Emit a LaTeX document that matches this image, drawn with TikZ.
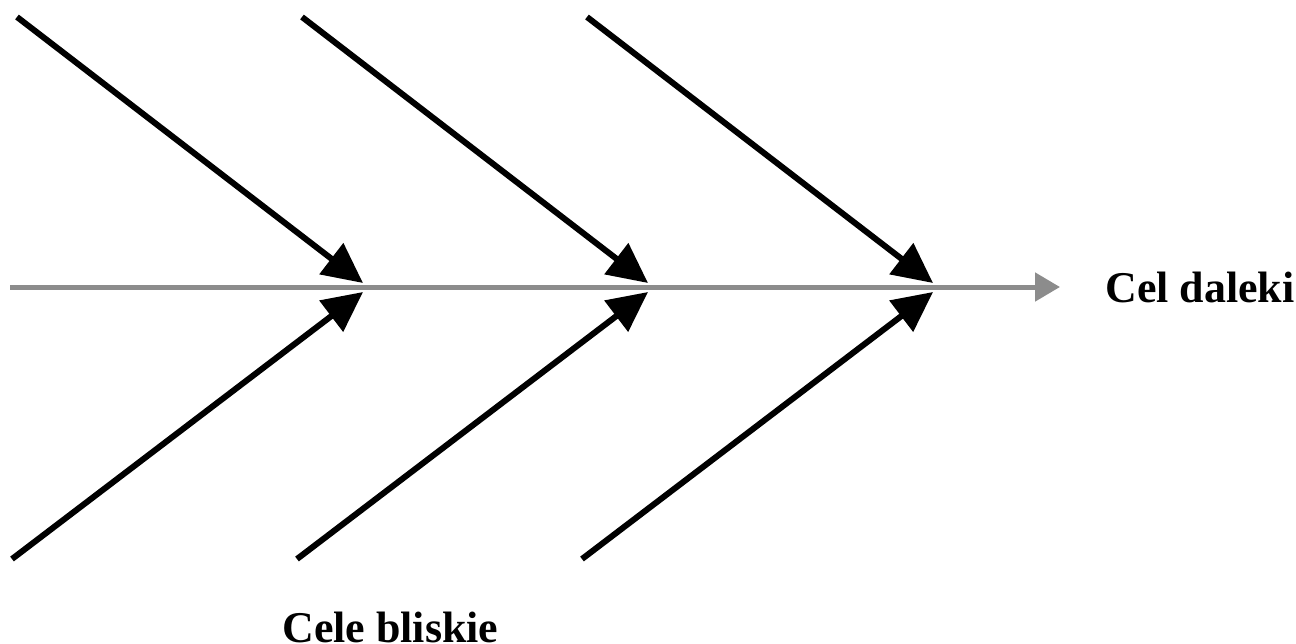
\documentclass[tikz,border=0pt]{standalone}
\usepackage{fontspec}
\setmainfont{Liberation Serif}
\usepackage{tikz}
\usetikzlibrary{positioning,arrows.meta}
\definecolor{spinegray}{RGB}{140,140,140}
\tikzset{
	bone/.style={-{Triangle[length=0.8cm,width=0.76cm]}, line width=0.12cm, black}, % the six black side arrows
	spine/.style={-{Triangle[length=0.5cm,width=0.56cm]}, line width=0.1cm, spinegray}, % the gray main line
	lbl/.style={font=\bfseries\fontsize{25}{29}\selectfont, inner sep=0pt}
}
\begin{document}
\begin{tikzpicture}[x=0.02cm, y=-0.02cm]
\useasboundingbox (0,0) rectangle (1296,643);
\coordinate (s) at (10,287);
\coordinate (e) at (1060,287);
\draw[spine] (s) -- (e);
\foreach \n/\dx in {1/0,2/285,3/570} {
	\coordinate (up\n) at ({17+\dx},17);
	\coordinate (lo\n) at ({12+\dx},559);
	\coordinate (hu\n) at ({363+\dx},283);
	\coordinate (hl\n) at ({363+\dx},292);
	\draw[bone] (up\n) -- (hu\n);
	\draw[bone] (lo\n) -- (hl\n);
}
\node[lbl, right=0.9cm of e] (far) {Cel daleki};
\node[lbl, anchor=base west] (near) at (282,642) {Cele bliskie};
\end{tikzpicture}
\end{document}
